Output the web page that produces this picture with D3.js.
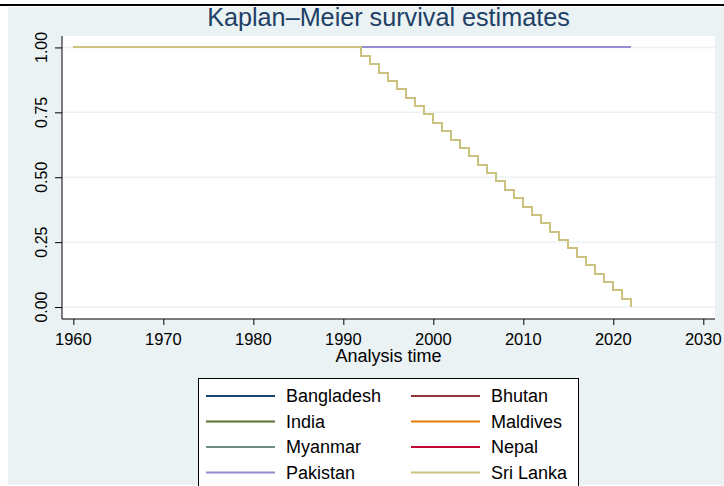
<!DOCTYPE html>
<html>
<head>
<meta charset="utf-8">
<script src="https://cdn.jsdelivr.net/npm/d3@7"></script>
<style>
  body { margin: 0; background: #ffffff; }
  svg { display: block; font-family: "Liberation Sans", Arial, sans-serif; }
</style>
</head>
<body>
<svg id="chart" width="724" height="486"></svg>
<script>
// series, in drawing order (Sri Lanka ends up on top)
const countries = ["Bangladesh", "Bhutan", "India", "Maldives", "Myanmar", "Nepal", "Pakistan", "Sri Lanka"];
const colors = ["#1a476f", "#90353b", "#55752f", "#e37e00", "#6e8e84", "#c10534", "#938dd2", "#cac27e"];

// countries with no failures: flat at 1 over the whole period
const flatYears = [1960, 2022];
const flatSurv = [1, 1];

// Sri Lanka step function
const slYears = [1960, 1992, 1993, 1994, 1995, 1996, 1997, 1998, 1999, 2000, 2001,
  2002, 2003, 2004, 2005, 2006, 2007, 2008, 2009, 2010, 2011,
  2012, 2013, 2014, 2015, 2016, 2017, 2018, 2019, 2020, 2021, 2022];
const slSurv = [1.000, 0.968, 0.935, 0.903, 0.871, 0.839, 0.806, 0.774, 0.742, 0.710, 0.677,
  0.645, 0.613, 0.581, 0.548, 0.516, 0.484, 0.452, 0.419, 0.387, 0.355,
  0.323, 0.290, 0.258, 0.226, 0.194, 0.161, 0.129, 0.097, 0.065, 0.032, 0.000];

const xTicks = [1960, 1970, 1980, 1990, 2000, 2010, 2020, 2030];
const yTicks = [0, 0.25, 0.5, 0.75, 1];

var svg = d3.select("#chart");
var plot = {left: 62, right: 715, top: 36, bottom: 319};

var x = d3.scaleLinear().domain([1958.74, 2031.3]).range([plot.left, plot.right]);
var y = d3.scaleLinear().domain([-0.046, 1.044]).range([plot.bottom, plot.top]);

// background
svg.append("rect").attr("x", 8).attr("y", 7).attr("width", 716).attr("height", 478).attr("fill", "#eaf2f3");
svg.append("rect").attr("x", 0).attr("y", 4).attr("width", 724).attr("height", 2).attr("fill", "#000");
svg.append("rect")
  .attr("x", plot.left).attr("y", plot.top)
  .attr("width", plot.right - plot.left).attr("height", plot.bottom - plot.top)
  .attr("fill", "#fff");

// title
svg.append("text")
  .attr("x", 388.5).attr("y", 26)
  .attr("text-anchor", "middle")
  .style("font-size", "25.2px").attr("fill", "#1e3f66")
  .text("Kaplan–Meier survival estimates");

// grid
svg.selectAll("line.grid").data(yTicks).enter()
  .append("line")
  .attr("class", "grid")
  .attr("x1", plot.left).attr("x2", plot.right)
  .attr("y1", d => y(d)).attr("y2", d => y(d))
  .attr("stroke", "#eaf2f3").attr("stroke-width", 1.5);

// y axis
var yAxis = svg.append("g").attr("transform", "translate(" + plot.left + ",0)")
  .call(d3.axisLeft(y).tickValues(yTicks).tickSize(7).tickFormat(""));
yAxis.select(".domain").attr("d", "M0," + plot.top + "V" + plot.bottom).attr("stroke", "#000");
yAxis.selectAll(".tick line").attr("stroke", "#000");
svg.selectAll("text.ylab").data(yTicks).enter()
  .append("text").attr("class", "ylab")
  .attr("transform", d => "translate(47," + y(d) + ") rotate(-90)")
  .attr("text-anchor", "middle")
  .style("font-size", "16px").attr("fill", "#000")
  .text(d3.format(".2f"));

// x axis
var xAxis = svg.append("g").attr("transform", "translate(0," + plot.bottom + ")")
  .call(d3.axisBottom(x).tickValues(xTicks).tickSize(6).tickFormat(""));
xAxis.select(".domain").attr("d", "M" + plot.left + ",0H" + plot.right).attr("stroke", "#000");
xAxis.selectAll(".tick line").attr("stroke", "#000");
svg.selectAll("text.xlab").data(xTicks).enter()
  .append("text").attr("class", "xlab")
  .attr("x", d => x(d)).attr("y", 345)
  .attr("text-anchor", "middle")
  .style("font-size", "16.5px").attr("fill", "#000")
  .text(d => d);

svg.append("text")
  .attr("x", 388.5).attr("y", 362)
  .attr("text-anchor", "middle")
  .style("font-size", "18px").attr("fill", "#000")
  .text("Analysis time");

// lines
var line = d3.line()
  .x(d => x(d[0]))
  .y(d => y(d[1]))
  .curve(d3.curveStepAfter);

countries.forEach(function(c, i) {
  var yrs = c == "Sri Lanka" ? slYears : flatYears;
  var sv = c == "Sri Lanka" ? slSurv : flatSurv;
  var pts = yrs.map((t, j) => [t, sv[j]]);
  svg.append("path")
    .datum(pts)
    .attr("d", line)
    .attr("fill", "none")
    .attr("stroke", colors[i])
    .attr("stroke-width", 2)
    .attr("shape-rendering", "crispEdges");
});

// legend
var lg = svg.append("g");
lg.append("rect")
  .attr("x", 198.5).attr("y", 378.5).attr("width", 380).attr("height", 120)
  .attr("fill", "#fff").attr("stroke", "#000").attr("stroke-width", 1);
countries.forEach(function(c, i) {
  var col = i % 2, row = Math.floor(i / 2);
  var lx = col == 0 ? 206 : 411;
  var ly = 396 + row * 25.5;
  lg.append("line")
    .attr("x1", lx).attr("x2", lx + 69)
    .attr("y1", ly).attr("y2", ly)
    .attr("stroke", colors[i]).attr("stroke-width", 2);
  lg.append("text")
    .attr("x", lx + 80).attr("y", ly + 6)
    .style("font-size", "18px").attr("fill", "#000")
    .text(c);
});
</script>
</body>
</html>
